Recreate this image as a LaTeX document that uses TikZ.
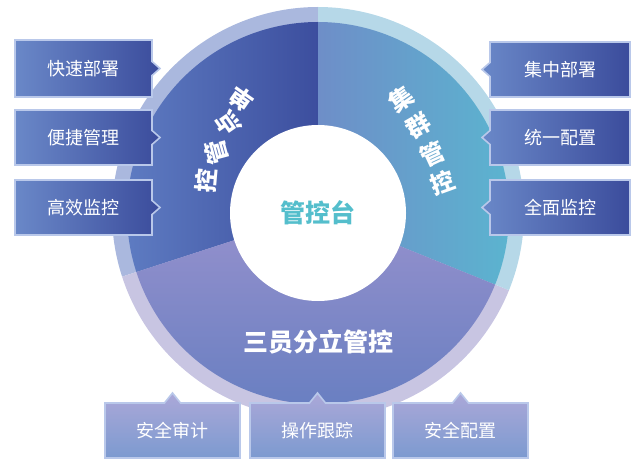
\documentclass[tikz,border=0pt]{standalone}
\usepackage{fontspec}
\setmainfont{Noto Sans CJK SC}
\usetikzlibrary{calc}
\definecolor{bdr}{HTML}{B9C8EA}
\definecolor{lA}{HTML}{6A88C8}
\definecolor{lB}{HTML}{3B4C9C}
\definecolor{bA}{HTML}{ABA8D8}
\definecolor{bB}{HTML}{7C9AD0}
\tikzset{
 boxtxt/.style={text=white,font=\fontsize{18}{18}\selectfont},
 sectxt/.style={text=white,inner sep=0pt,font=\fontsize{24}{24}\selectfont\bfseries},
 boxline/.style={draw=bdr,line width=1.6pt}
}
\newcommand\leftbox[4]{% name, top, bottom, text
 \path[boxline,left color=lA,right color=lB] (15,#2)--(152,#2)--(152,{(#2+#3)/2+7})--(160,{(#2+#3)/2})--(152,{(#2+#3)/2-7})--(152,#3)--(15,#3)--cycle;
 \node[boxtxt] (#1) at (83,{(#2+#3)/2}) {#4};}
\newcommand\rightbox[4]{%
 \path[boxline,left color=lA,right color=lB] (630,#2)--(490,#2)--(490,{(#2+#3)/2+7})--(482,{(#2+#3)/2})--(490,{(#2+#3)/2-7})--(490,#3)--(630,#3)--cycle;
 \node[boxtxt] (#1) at (560,{(#2+#3)/2}) {#4};}
\newcommand\bottombox[4]{% name, x1, x2, text
 \path[boxline,top color=bA,bottom color=bB] (#2,14)--(#3,14)--(#3,69)--({(#2+#3)/2+8},69)--({(#2+#3)/2},79)--({(#2+#3)/2-8},69)--(#2,69)--cycle;
 \node[boxtxt] (#1) at ({(#2+#3)/2},41) {#4};}
\begin{document}
\begin{tikzpicture}[x=1pt,y=1pt]
\useasboundingbox (0,0) rectangle (644,472);
\coordinate (C) at (318,259);
% outer ring
\fill[color={rgb,255:red,170;green,184;blue,222}] (C) -- ++(90:206) arc (90:198:206) -- cycle;
\fill[color={rgb,255:red,200;green,197;blue,226}] (C) -- ++(198:206) arc (198:338:206) -- cycle;
\fill[color={rgb,255:red,182;green,216;blue,232}] (C) -- ++(-22:206) arc (-22:90:206) -- cycle;
% sectors
\shade[left color={rgb,255:red,95;green,125;blue,195},right color={rgb,255:red,60;green,78;blue,158}] (C) -- ++(90:191) arc (90:198:191) -- cycle;
\shade[left color={rgb,255:red,110;green,142;blue,200},right color={rgb,255:red,90;green,182;blue,208}] (C) -- ++(-22:191) arc (-22:90:191) -- cycle;
\shade[top color={rgb,255:red,150;green,145;blue,205},bottom color={rgb,255:red,100;green,125;blue,192}] (C) -- ++(198:191) arc (198:338:191) -- cycle;
% center
\fill[white] (C) circle (88);
\node[font=\fontsize{25}{25}\selectfont\bfseries,text={rgb,255:red,84;green,190;blue,204}] (hub) at (C) {管控台};
% sector labels
\node[sectxt,rotate=145] (l1) at (241,373) {单};
\node[sectxt,rotate=125] (l2) at (228,348) {点};
\node[sectxt,rotate=105] (l3) at (216,320) {管};
\node[sectxt,rotate=85] (l4) at (206,291) {控};
\node[sectxt,rotate=35] (r1) at (401,373) {集};
\node[sectxt,rotate=30] (r2) at (418,346) {群};
\node[sectxt,rotate=25] (r3) at (432,318) {管};
\node[sectxt,rotate=20] (r4) at (443,289) {控};
\node[sectxt,font=\fontsize{25}{25}\selectfont\bfseries] (bt) at (318,130) {三员分立管控};
% boxes
\leftbox{a1}{432}{375}{快速部署}
\leftbox{a2}{362}{307}{便捷管理}
\leftbox{a3}{292}{237}{高效监控}
\rightbox{b1}{430}{375}{集中部署}
\rightbox{b2}{362}{307}{统一配置}
\rightbox{b3}{292}{237}{全面监控}
\bottombox{c1}{105}{240}{安全审计}
\bottombox{c2}{250}{385}{操作跟踪}
\bottombox{c3}{393}{528}{安全配置}
\end{tikzpicture}
\end{document}
